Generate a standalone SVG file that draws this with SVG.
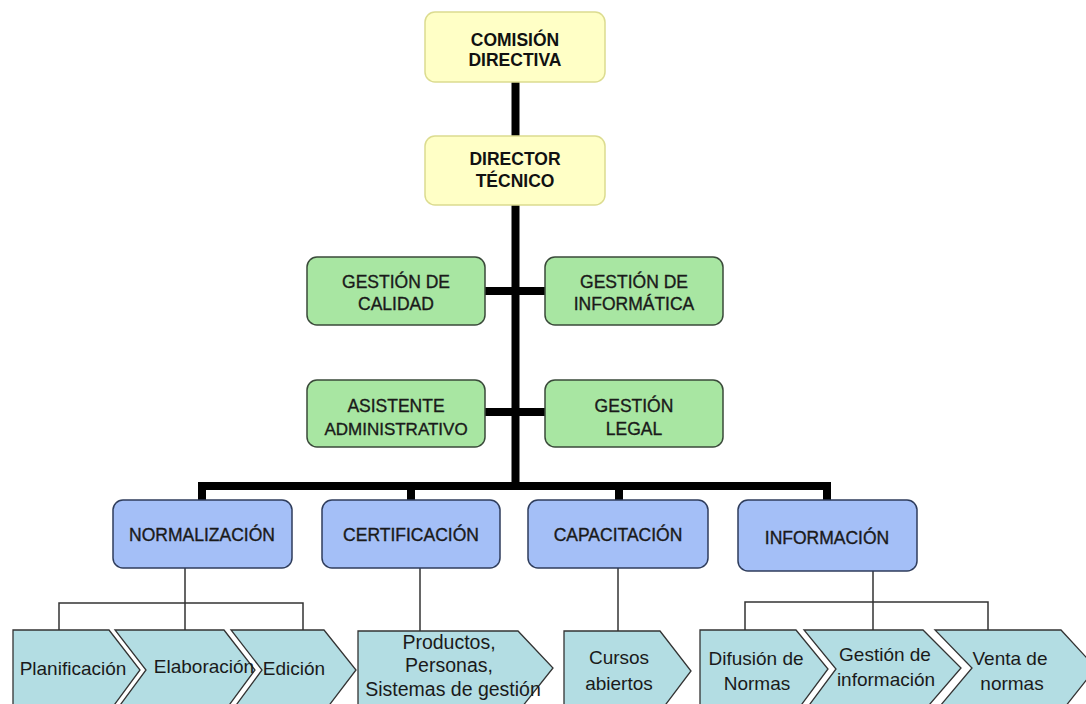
<svg xmlns="http://www.w3.org/2000/svg" width="1086" height="704" viewBox="0 0 1086 704">
<style>
.bg{fill:#ffffff}
.thick{stroke:#000;stroke-width:8;fill:none;stroke-linejoin:miter}
.thin{stroke:#333;stroke-width:1.5;fill:none}
.yel{fill:#ffffc6;stroke:#dcdc90;stroke-width:1.5}
.grn{fill:#a8e6a2;stroke:#3a4a3a;stroke-width:1.5}
.blu{fill:#a4bff7;stroke:#2f3d5c;stroke-width:1.5}
.chev{fill:#b3dde3;stroke:#333;stroke-width:1.3;stroke-linejoin:miter}
.tb{font-family:"Liberation Sans",Arial,sans-serif;font-weight:bold;font-size:17.5px;fill:#111;text-anchor:middle}
.tm{font-family:"Liberation Sans",Arial,sans-serif;font-size:17.5px;fill:#1a1a1a;stroke:#1a1a1a;stroke-width:0.35;text-anchor:middle}
.tc{font-family:"Liberation Sans",Arial,sans-serif;font-size:19px;fill:#1a1a1a;text-anchor:middle}
</style>
<rect class="bg" x="0" y="0" width="1086" height="704"/>
<g id="connectors">
<path class="thick" d="M515.5,80 V140"/>
<path class="thick" d="M515.5,203 V490"/>
<path class="thick" d="M483,291 H547"/>
<path class="thick" d="M483,412 H547"/>
<path class="thick" d="M202,502 V486 H827 V502"/>
<path class="thick" d="M411,486 V502"/>
<path class="thick" d="M619,486 V502"/>
<path class="thin" d="M185,568 V603 M59,632 V603 H303 V632 M185,603 V632"/>
<path class="thin" d="M420,568 V632"/>
<path class="thin" d="M618,568 V632"/>
<path class="thin" d="M873,571 V602 M745,632 V602 H988 V632 M873,602 V632"/>
</g>
<g id="comision">
<rect class="yel" x="425" y="12" width="180" height="70" rx="10"/>
<text class="tb" x="515" y="46">COMISIÓN</text>
<text class="tb" x="515" y="66">DIRECTIVA</text>
</g>
<g id="director">
<rect class="yel" x="425" y="136" width="180" height="69" rx="10"/>
<text class="tb" x="515" y="165">DIRECTOR</text>
<text class="tb" x="515" y="187">TÉCNICO</text>
</g>
<g id="calidad">
<rect class="grn" x="307" y="257" width="178" height="68" rx="10"/>
<text class="tm" x="396" y="288">GESTIÓN DE</text>
<text class="tm" x="396" y="310">CALIDAD</text>
</g>
<g id="informatica">
<rect class="grn" x="545" y="257" width="178" height="68" rx="10"/>
<text class="tm" x="634" y="288">GESTIÓN DE</text>
<text class="tm" x="634" y="310">INFORMÁTICA</text>
</g>
<g id="asistente">
<rect class="grn" x="307" y="380" width="178" height="67" rx="10"/>
<text class="tm" x="396" y="412">ASISTENTE</text>
<text class="tm" x="396" y="435" style="font-size:17px">ADMINISTRATIVO</text>
</g>
<g id="legal">
<rect class="grn" x="545" y="380" width="178" height="67" rx="10"/>
<text class="tm" x="634" y="412">GESTIÓN</text>
<text class="tm" x="634" y="435">LEGAL</text>
</g>
<g id="normalizacion">
<rect class="blu" x="113" y="500" width="179" height="68" rx="10"/>
<text class="tm" x="202" y="541">NORMALIZACIÓN</text>
</g>
<g id="certificacion">
<rect class="blu" x="322" y="500" width="178" height="68" rx="10"/>
<text class="tm" x="411" y="541">CERTIFICACIÓN</text>
</g>
<g id="capacitacion">
<rect class="blu" x="528" y="500" width="180" height="68" rx="10"/>
<text class="tm" x="618" y="541">CAPACITACIÓN</text>
</g>
<g id="informacion">
<rect class="blu" x="738" y="500" width="179" height="71" rx="10"/>
<text class="tm" x="827" y="544">INFORMACIÓN</text>
</g>
<g id="planificacion">
<polygon class="chev" points="13,630 109,630 140,670 109,712 13,712"/>
<text class="tc" x="73" y="675">Planificación</text>
</g>
<g id="elaboracion">
<polygon class="chev" points="115,630 224,630 255,670 224,712 115,712 146,670"/>
<text class="tc" x="204" y="673">Elaboración</text>
</g>
<g id="edicion">
<polygon class="chev" points="231,630 324,630 356,670 324,712 231,712 262,670"/>
<text class="tc" x="294" y="675">Edición</text>
</g>
<g id="productos">
<polygon class="chev" points="358,631 518,631 553,668 518,712 358,712"/>
<text class="tc" x="449" y="649" style="font-size:19.5px">Productos,</text>
<text class="tc" x="449" y="672" style="font-size:19.5px">Personas,</text>
<text class="tc" x="453" y="696" style="font-size:19.5px">Sistemas de gestión</text>
</g>
<g id="cursos">
<polygon class="chev" points="564,631 660,631 691,671 660,712 564,712"/>
<text class="tc" x="619" y="664">Cursos</text>
<text class="tc" x="619" y="690">abiertos</text>
</g>
<g id="difusion">
<polygon class="chev" points="700,630 796,630 828,669 796,712 700,712"/>
<text class="tc" x="756" y="665">Difusión de</text>
<text class="tc" x="757" y="690">Normas</text>
</g>
<g id="gestion-info">
<polygon class="chev" points="804,630 923,630 961,668 923,712 804,712 836,669"/>
<text class="tc" x="885" y="661">Gestión de</text>
<text class="tc" x="886" y="686">información</text>
</g>
<g id="venta">
<polygon class="chev" points="935,630 1061,630 1096,668 1061,712 935,712 972,668"/>
<text class="tc" x="1010" y="665">Venta de</text>
<text class="tc" x="1012" y="690">normas</text>
</g>
</svg>
